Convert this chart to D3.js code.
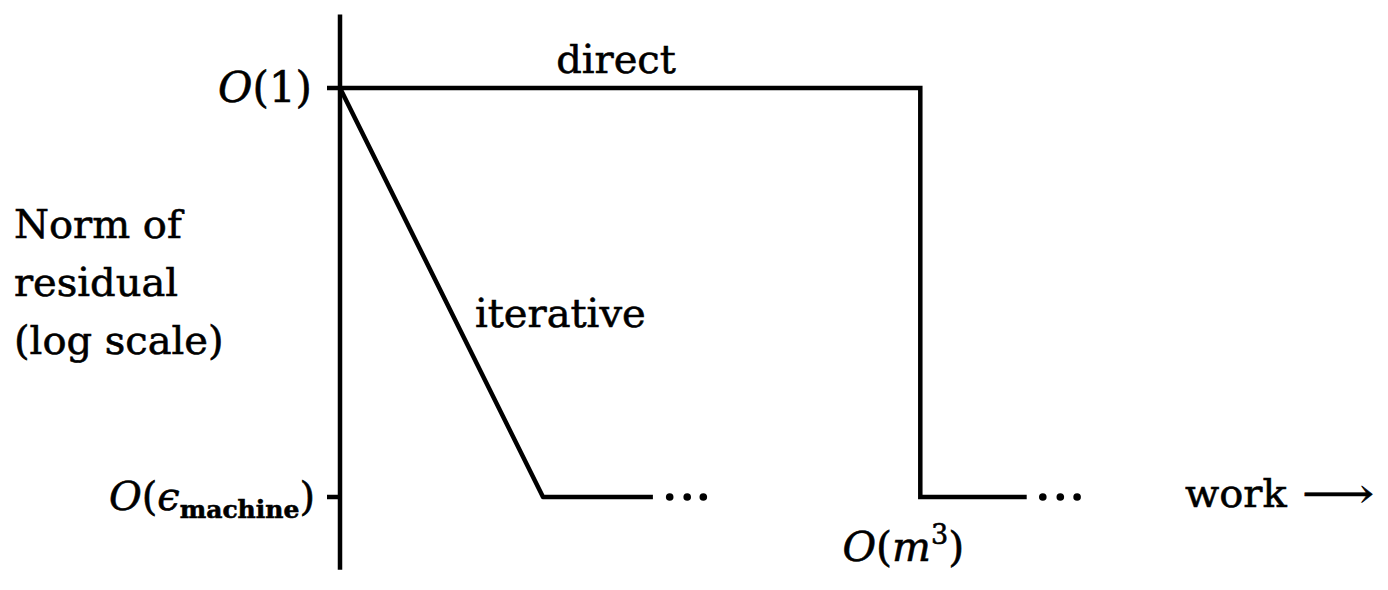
<!DOCTYPE html>
<html><head><meta charset="utf-8">
<script src="https://cdn.jsdelivr.net/npm/d3@7"></script>
<style>html,body{margin:0;padding:0;background:#fff;}svg{display:block;}
text{stroke:#000;stroke-width:0.6px;fill:#000;}</style>
</head><body>
<svg id="c" width="1388" height="590"></svg>
<script>
// levels: 1 = O(1), 0 = O(eps_machine)
const yLevels = [1, 0];
const yTickLabels = ["O(1)", "O(eps)"];
// work units (abstract)
const iterativeX = [0, 29, 44.7];
const iterativeY = [1, 0, 0];
const directX = [0, 82.9, 82.9, 98.1];
const directY = [1, 1, 0, 0];
const iterDotsX = [47.1, 49.6, 51.9];
const directDotsX = [100.4, 102.9, 105.3];
const dotsY = 0;
const xTickValue = 82.9;

const svg = d3.select("#c");
const FONT = "DejaVu Serif";
const x = d3.scaleLinear().domain([0, 100]).range([340, 1040]);
const y = d3.scaleLinear().domain([0, 1]).range([497, 88]);
const SW = 4.5;

// y axis line
svg.append("line").attr("x1", x(0)).attr("x2", x(0))
  .attr("y1", y(1.18)).attr("y2", y(-0.178))
  .attr("stroke", "#000").attr("stroke-width", SW);
// ticks
yLevels.forEach(v => {
  svg.append("line").attr("x1", x(0) - 13).attr("x2", x(0))
    .attr("y1", y(v)).attr("y2", y(v)).attr("stroke", "#000").attr("stroke-width", SW);
});

const line = d3.line().x(d => x(d[0])).y(d => y(d[1]));
svg.append("path").attr("d", line(directX.map((v, i) => [v, directY[i]])))
  .attr("fill", "none").attr("stroke", "#000").attr("stroke-width", SW).attr("stroke-linejoin", "miter");
svg.append("path").attr("d", line(iterativeX.map((v, i) => [v, iterativeY[i]])))
  .attr("fill", "none").attr("stroke", "#000").attr("stroke-width", SW).attr("stroke-linejoin", "round");

svg.selectAll("circle.dot").data(iterDotsX.concat(directDotsX)).enter().append("circle")
  .attr("class", "dot").attr("cx", d => x(d)).attr("cy", y(dotsY)).attr("r", 3.8).attr("fill", "#000");

const fs = 40;
// O(1)
let t = svg.append("text").attr("x", 312).attr("y", y(1) + 14).attr("text-anchor", "end")
  .attr("font-family", FONT).attr("font-size", 42);
t.append("tspan").attr("font-style", "italic").text("O");
t.append("tspan").text("(1)");

// O(eps_machine)
t = svg.append("text").attr("x", 315).attr("y", y(0) + 13).attr("text-anchor", "end")
  .attr("font-family", FONT).attr("font-size", fs);
t.append("tspan").attr("font-style", "italic").text("O");
t.append("tspan").text("(");
t.append("tspan").attr("font-style", "italic").text("ϵ");
t.append("tspan").attr("font-size", 25).attr("font-weight", "bold").attr("dy", 8).text("machine");
t.append("tspan").attr("dy", -8).text(")");

// O(m^3)
t = svg.append("text").attr("x", x(xTickValue) - 17).attr("y", 561).attr("text-anchor", "middle")
  .attr("font-family", FONT).attr("font-size", 41);
t.append("tspan").attr("font-style", "italic").text("O");
t.append("tspan").text("(");
t.append("tspan").attr("font-style", "italic").text("m");
t.append("tspan").attr("font-size", 27).attr("dy", -17).text("3");
t.append("tspan").attr("dy", 17).text(")");

// series labels
svg.append("text").attr("x", 616).attr("y", 73).attr("text-anchor", "middle")
  .attr("font-family", FONT).attr("font-size", fs).text("direct");
svg.append("text").attr("x", 475).attr("y", 327)
  .attr("font-family", FONT).attr("font-size", fs).text("iterative");

// y-axis title
["Norm of", "residual", "(log scale)"].forEach((s, i) => {
  svg.append("text").attr("x", 14).attr("y", 238 + i * 58)
    .attr("font-family", FONT).attr("font-size", fs).text(s);
});

// x-axis title
t = svg.append("text").attr("x", 1185).attr("y", 507)
  .attr("font-family", FONT).attr("font-size", fs);
t.append("tspan").text("work ");
t.append("tspan").attr("textLength", 72).attr("lengthAdjust", "spacingAndGlyphs").attr("x", 1302).text("⟶");
</script>
</body></html>
